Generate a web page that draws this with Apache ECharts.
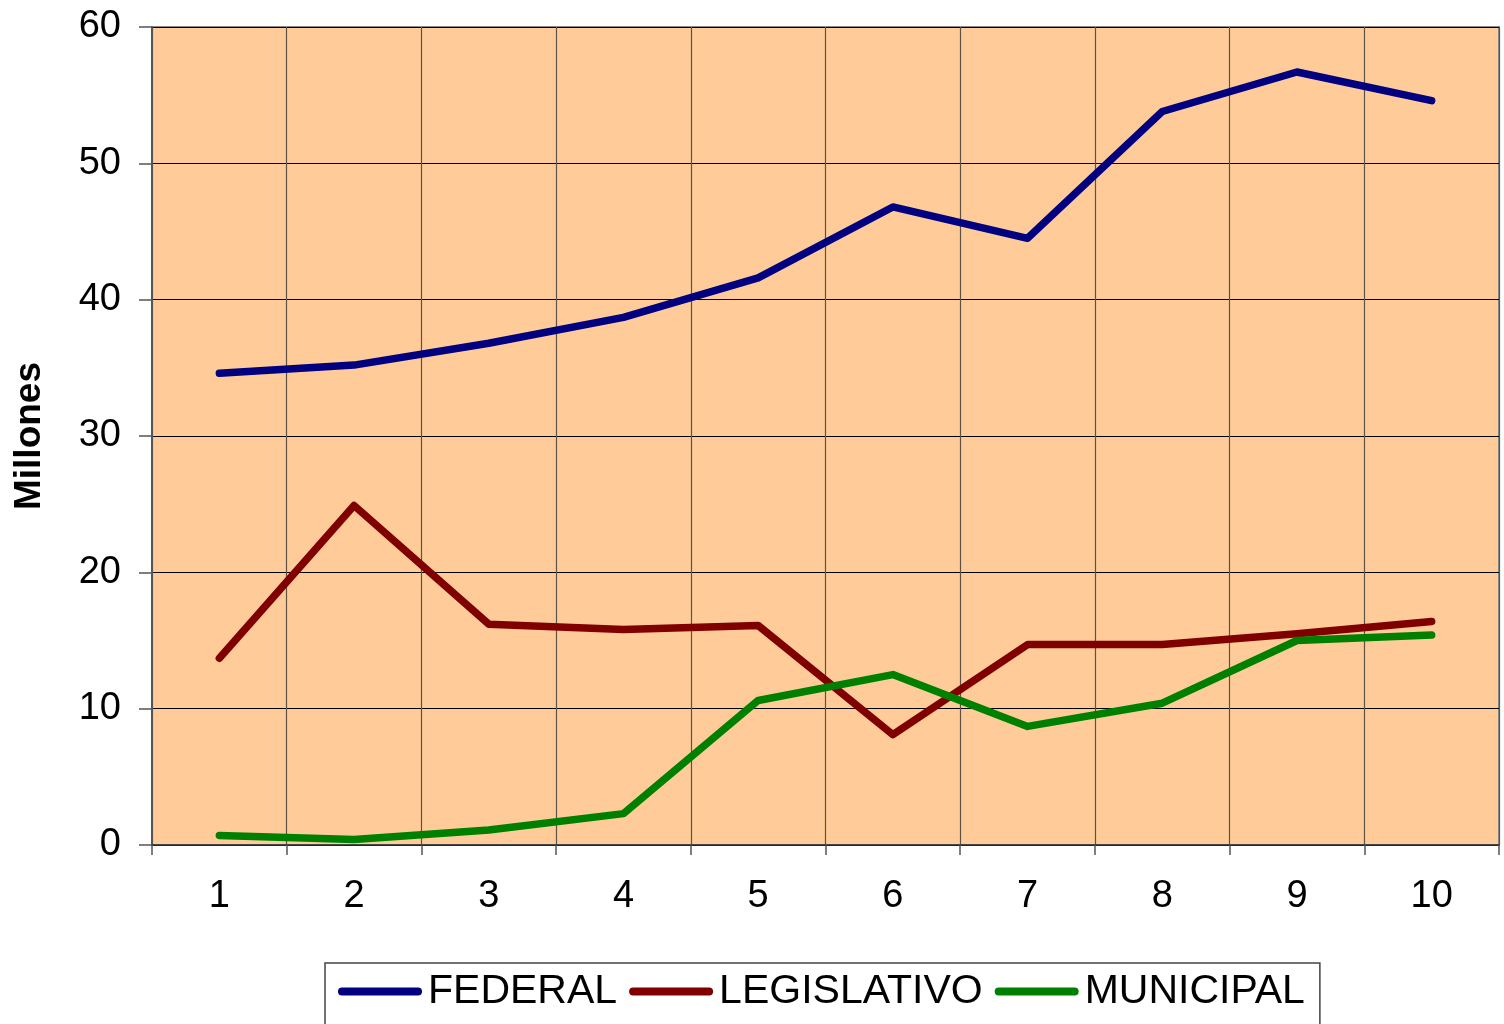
<!DOCTYPE html>
<html>
<head>
<meta charset="utf-8">
<script src="https://cdn.jsdelivr.net/npm/echarts@6/dist/echarts.min.js"></script>
<style>
html,body{margin:0;padding:0;background:#fff;}
#chart{width:1504px;height:1024px;}
</style>
</head>
<body>
<div id="chart"></div>
<script>
const categories = ['1','2','3','4','5','6','7','8','9','10'];
const federal = [34.6, 35.2, 36.8, 38.7, 41.6, 46.8, 44.5, 53.8, 56.7, 54.6];
const legislativo = [13.7, 24.9, 16.2, 15.8, 16.1, 8.1, 14.7, 14.7, 15.5, 16.4];
const municipal = [0.7, 0.4, 1.1, 2.3, 10.6, 12.5, 8.7, 10.4, 15.0, 15.4];
const seriesNames = ['FEDERAL', 'LEGISLATIVO', 'MUNICIPAL'];
const yTicks = {min: 0, max: 60, interval: 10};

const chart = echarts.init(document.getElementById('chart'), null, {renderer: 'canvas'});
const font = 'Liberation Sans, Arial, sans-serif';
const capsule = 'path://M4,0 L80,0 A4,4 0 0 1 80,8 L4,8 A4,4 0 0 1 4,0 Z';
function mk(name, data, color) {
  return {
    name: name, type: 'line', data: data, symbol: 'none',
    lineStyle: {color: color, width: 7.5, cap: 'round', join: 'round'},
    itemStyle: {color: color},
    animation: false
  };
}
chart.setOption({
  animation: false,
  grid: {left: 152, top: 27, right: 5, bottom: 179, show: true,
         backgroundColor: '#FFCC99', borderColor: '#8a8a8a', borderWidth: 2},
  xAxis: {
    type: 'category', data: categories, boundaryGap: true,
    axisLine: {show: true, lineStyle: {color: '#333', width: 1.5}},
    axisTick: {show: true, length: 10, lineStyle: {color: '#555', width: 1.5}},
    axisLabel: {color: '#000', fontSize: 38, fontFamily: font, margin: 33},
    splitLine: {show: true, lineStyle: {color: '#5e5244', width: 1.2}}
  },
  yAxis: {
    type: 'value', min: yTicks.min, max: yTicks.max, interval: yTicks.interval,
    name: 'Millones', nameLocation: 'middle', nameGap: 104, nameRotate: 90,
    nameTextStyle: {color: '#000', fontSize: 37, fontWeight: 'bold', fontFamily: font},
    axisLine: {show: true, lineStyle: {color: '#555', width: 2}},
    axisTick: {show: true, length: 13, lineStyle: {color: '#555', width: 1.5}},
    axisLabel: {color: '#000', fontSize: 38, fontFamily: font, margin: 31},
    splitLine: {show: true, lineStyle: {color: '#000', width: 1.2}}
  },
  legend: {
    left: 325, top: 963, orient: 'horizontal',
    data: seriesNames.map(n => ({name: n, icon: capsule})),
    itemWidth: 84, itemHeight: 8, itemGap: 12,
    padding: [8, 15, 40, 13],
    borderColor: '#444', borderWidth: 1.5,
    textStyle: {color: '#000', fontSize: 41, fontFamily: font, padding: [0,0,0,1]}
  },
  series: [
    mk(seriesNames[0], federal, '#000080'),
    mk(seriesNames[1], legislativo, '#800000'),
    mk(seriesNames[2], municipal, '#008000')
  ]
});
</script>
</body>
</html>
